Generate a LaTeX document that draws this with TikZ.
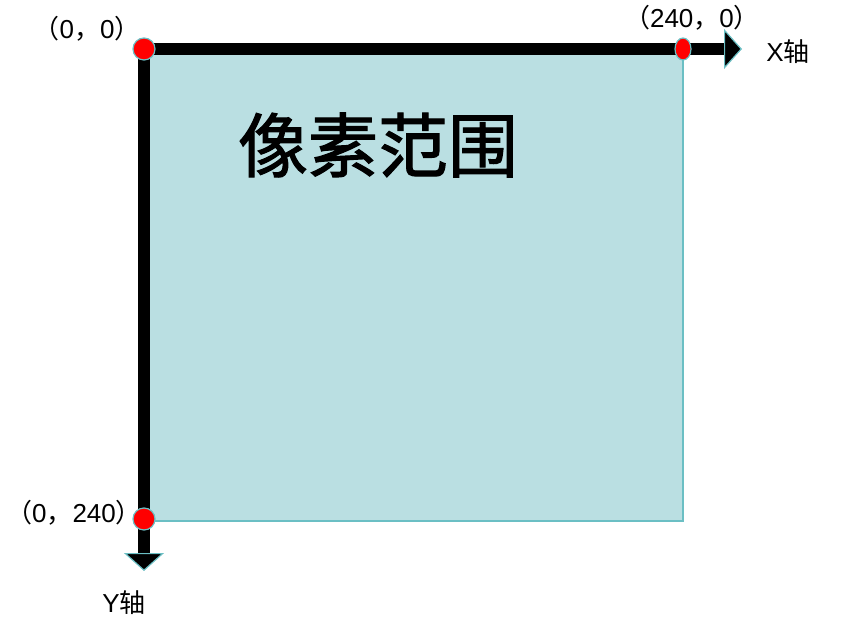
\documentclass[tikz,border=0pt]{standalone}
\usepackage{fontspec}
\setmainfont{Liberation Sans}
\newfontfamily\cjk{Noto Sans CJK SC}
\newfontfamily\cjkheavy{Noto Sans CJK SC}[FakeBold=1.6]
\usetikzlibrary{arrows.meta,positioning,shapes.geometric}

\definecolor{pixfill}{HTML}{BADFE2}
\definecolor{axisedge}{HTML}{6BBFC4}

\begin{document}
\begin{tikzpicture}[x=0.5pt,y=-0.5pt]
  \tikzstyle{axis}=[line width=6pt, draw=black,
    -{Triangle[width=20pt,length=9pt,line width=0.6pt,color=axisedge,fill=black]}]
  \tikzstyle{dot}=[circle, fill=red, draw=axisedge, line width=0.6pt,
    inner sep=0pt, minimum size=11pt]
  \tikzstyle{lbl}=[inner sep=0pt, font=\fontsize{13}{15}\selectfont]

  \useasboundingbox (0,0) rectangle (851,630);

  \coordinate (o)    at (144,49);
  \coordinate (c)    at (683,521);
  \coordinate (xend) at (742,49);
  \coordinate (yend) at (144,571);

  % pixel area
  \filldraw[fill=pixfill, draw=axisedge, line width=0.6pt] (145,50) rectangle (c);

  % axes
  \draw[axis] (o) -- (xend);
  \draw[axis] (o) -- (yend);

  \node[dot] (d_o) at (o) {};
  \node[dot, ellipse, minimum width=8pt, minimum height=11pt] (d_x) at (683,49) {};
  \node[dot] (d_y) at (144,519) {};

  \node[lbl] (l_o) at (87,29) {{\cjk（}0{\cjk，}0{\cjk）}};
  \node[lbl] (l_x) at (692,18) {{\cjk（}240{\cjk，}0{\cjk）}};
  \node[lbl] (l_y) at (74,513) {{\cjk（}0{\cjk，}240{\cjk）}};
  \node[lbl] (n_x) at (788,52) {X{\cjk 轴}};
  \node[lbl] (n_y) at (124,603) {Y{\cjk 轴}};

  \node (title) at (378,145) {\fontsize{35}{40}\selectfont\cjkheavy 像素范围};
\end{tikzpicture}
\end{document}
